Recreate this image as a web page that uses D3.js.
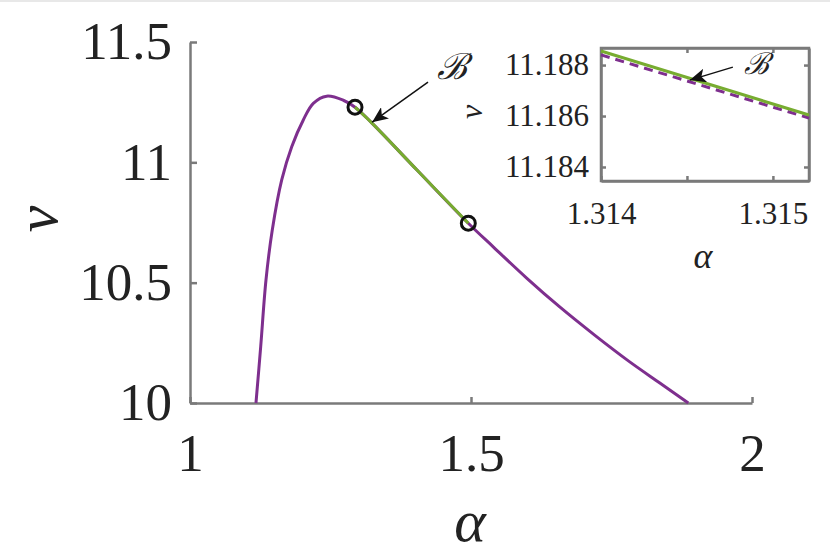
<!DOCTYPE html>
<html>
<head>
<meta charset="utf-8">
<script src="https://cdn.jsdelivr.net/npm/d3@7"></script>
<style>
  body { margin: 0; background: #fff; }
  .axis path, .axis line { stroke: #7a7a7a; stroke-width: 2.5; }
</style>
</head>
<body>
<svg id="chart" width="830" height="554"></svg>
<script>
const serif = "'Liberation Serif', 'DejaVu Serif', 'Times New Roman', Times, serif";

// main branch (purple)
const alphaMain = [1.1174, 1.1258, 1.1352, 1.1464, 1.1632, 1.181, 1.2016, 1.2194, 1.2432, 1.2728, 1.2936, 1.3238, 1.4039, 1.4952, 1.54, 1.60, 1.6584, 1.72, 1.78, 1.836, 1.8867];
const nuMain    = [10.0, 10.234, 10.511, 10.719, 10.927, 11.065, 11.176, 11.245, 11.275, 11.258, 11.229, 11.163, 10.968, 10.747, 10.648, 10.517, 10.398, 10.282, 10.175, 10.083, 10.0];
// stable part (green) between the two markers
const alphaGreen = [1.2936, 1.3238, 1.4039, 1.4952];
const nuGreen    = [11.229, 11.163, 10.968, 10.747];
const alphaMarks = [1.2936, 1.4952];
const nuMarks    = [11.229, 10.747];
const xTicks = [1, 1.5, 2];
const yTicks = [10, 10.5, 11, 11.5];

// inset
const alphaInset = [1.314, 1.31521];
const nuInsetGreen  = [11.18855, 11.18604];
const nuInsetPurple = [11.1884, 11.18592];
const insetXTicks = [1.314, 1.3145, 1.315];
const insetYTicks = [11.184, 11.186, 11.188];

const purple = "#7e2f8e", green = "#77ac30";

const svg = d3.select("#chart");
svg.append("rect").attr("width", 830).attr("height", 2).attr("fill", "#e8e8e8");

// ---- main plot
const x = d3.scaleLinear().domain([1, 2]).range([190, 752]);
const y = d3.scaleLinear().domain([10, 11.5]).range([403, 42]);

const yAxis = svg.append("g").attr("class", "axis")
    .attr("transform", "translate(190,0)")
    .call(d3.axisLeft(y).tickValues(yTicks).tickSizeInner(-7).tickSizeOuter(0).tickPadding(18)
        .tickFormat(d => d3.format("")(d)));
const xAxis = svg.append("g").attr("class", "axis")
    .attr("transform", "translate(0,403)")
    .call(d3.axisBottom(x).tickValues(xTicks).tickSizeInner(-6).tickSizeOuter(0).tickPadding(30)
        .tickFormat(d => d3.format("")(d)));
[yAxis, xAxis].forEach(a => a.attr("font-family", null).selectAll("text").attr("font-size", 53));

const line = d3.line().x(d => x(d[0])).y(d => y(d[1])).curve(d3.curveCatmullRom.alpha(0.5));

svg.append("path").datum(d3.zip(alphaMain, nuMain))
    .attr("d", line).attr("fill", "none").attr("stroke", purple).attr("stroke-width", 3);
svg.append("path").datum(d3.zip(alphaGreen, nuGreen))
    .attr("d", line).attr("fill", "none").attr("stroke", green).attr("stroke-width", 3);
svg.selectAll("circle.mark").data(d3.zip(alphaMarks, nuMarks)).enter().append("circle")
    .attr("class", "mark")
    .attr("cx", d => x(d[0])).attr("cy", d => y(d[1])).attr("r", 7)
    .attr("fill", "none").attr("stroke", "#111").attr("stroke-width", 3);

// arrowhead marker
const defs = svg.append("defs");
defs.append("marker").attr("id", "head").attr("viewBox", "0 0 16 14")
    .attr("refX", 16).attr("refY", 7).attr("markerWidth", 16).attr("markerHeight", 14)
    .attr("markerUnits", "userSpaceOnUse").attr("orient", "auto")
    .append("path").attr("d", "M0,0 L16,7 L0,14 L4,7 Z").attr("fill", "#111");

svg.append("line")
    .attr("x1", x(1.4235)).attr("y1", y(11.333)).attr("x2", x(1.324)).attr("y2", y(11.167))
    .attr("stroke", "#111").attr("stroke-width", 1.5).attr("marker-end", "url(#head)");
svg.append("text").attr("x", x(1.466)).attr("y", y(11.345)).attr("text-anchor", "middle")
    .attr("font-size", 36).attr("font-style", "italic").text("ℬ");

svg.append("text").attr("x", 470).attr("y", 541).attr("text-anchor", "middle")
    .attr("font-size", 60).attr("font-style", "italic").text("α");
svg.append("text").attr("transform", "translate(57,219) rotate(-90)").attr("text-anchor", "middle")
    .attr("font-size", 60).attr("font-style", "italic").text("ν");

// ---- inset
const xi = d3.scaleLinear().domain([1.314, 1.31521]).range([601, 809]);
const yi = d3.scaleLinear().domain([11.18345, 11.18867]).range([181, 48]);

const ins = svg.append("g");
ins.append("rect").attr("x", 601).attr("y", 48).attr("width", 208).attr("height", 133)
    .attr("fill", "#fff").attr("stroke", "#7a7a7a").attr("stroke-width", 2.5);

const iyL = ins.append("g").attr("class", "axis").attr("transform", "translate(601,0)")
    .call(d3.axisLeft(yi).tickValues(insetYTicks).tickSizeInner(-5).tickSizeOuter(0).tickPadding(12)
        .tickFormat(d3.format(".3f")));
ins.append("g").attr("class", "axis").attr("transform", "translate(809,0)")
    .call(d3.axisRight(yi).tickValues(insetYTicks).tickSizeInner(-5).tickSizeOuter(0).tickFormat(""));
const ixB = ins.append("g").attr("class", "axis").attr("transform", "translate(0,181)")
    .call(d3.axisBottom(xi).tickValues(insetXTicks).tickSizeInner(-5).tickSizeOuter(0).tickPadding(21)
        .tickFormat(d => d === 1.3145 ? "" : d3.format(".3f")(d)));
ins.append("g").attr("class", "axis").attr("transform", "translate(0,48)")
    .call(d3.axisTop(xi).tickValues(insetXTicks).tickSizeInner(-5).tickSizeOuter(0).tickFormat(""));
[iyL, ixB].forEach(a => a.attr("font-family", null).selectAll("text").attr("font-size", 31));

const lineI = d3.line().x(d => xi(d[0])).y(d => yi(d[1]));
ins.append("path").datum(d3.zip(alphaInset, nuInsetPurple))
    .attr("d", lineI).attr("fill", "none").attr("stroke", purple).attr("stroke-width", 3)
    .attr("stroke-dasharray", "9,6");
ins.append("path").datum(d3.zip(alphaInset, nuInsetGreen))
    .attr("d", lineI).attr("fill", "none").attr("stroke", green).attr("stroke-width", 3);

ins.append("line")
    .attr("x1", xi(1.314767)).attr("y1", yi(11.18792)).attr("x2", xi(1.314517)).attr("y2", yi(11.18741))
    .attr("stroke", "#111").attr("stroke-width", 1.5).attr("marker-end", "url(#head)");
ins.append("text").attr("x", xi(1.314907)).attr("y", yi(11.18763)).attr("text-anchor", "middle")
    .attr("font-size", 30).attr("font-style", "italic").text("ℬ");

ins.append("text").attr("x", 703).attr("y", 268).attr("text-anchor", "middle")
    .attr("font-size", 36).attr("font-style", "italic").text("α");
ins.append("text").attr("transform", "translate(482,112) rotate(-90)").attr("text-anchor", "middle")
    .attr("font-size", 32).attr("font-style", "italic").text("ν");

// serif everywhere, set inline so nothing overrides it
svg.selectAll("text").style("font-family", serif).style("fill", "#222");
</script>
</body>
</html>
